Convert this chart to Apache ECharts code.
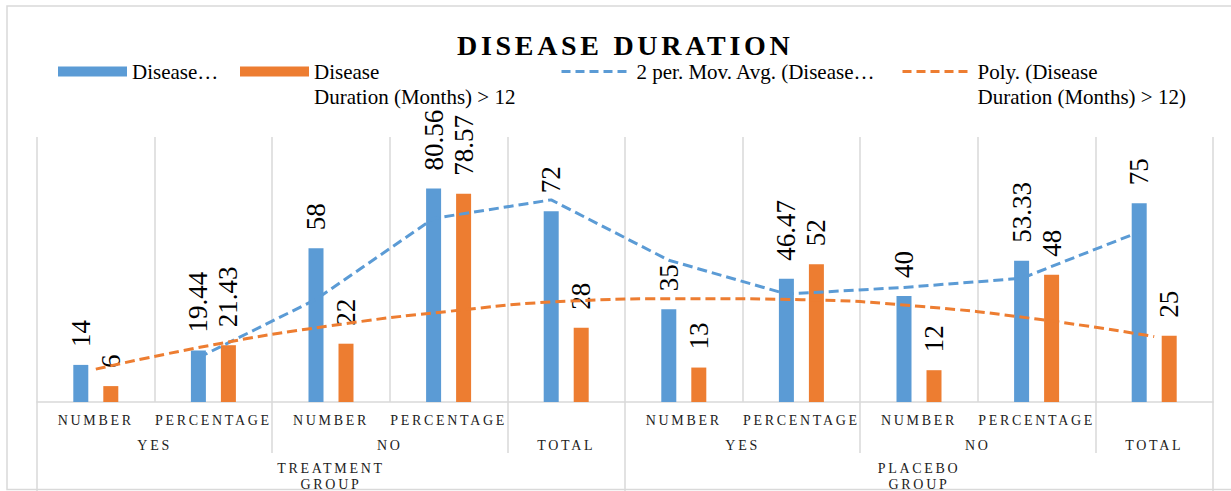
<!DOCTYPE html>
<html><head><meta charset="utf-8">
<script src="https://cdn.jsdelivr.net/npm/echarts@6/dist/echarts.min.js"></script>
<style>html,body{margin:0;padding:0;background:#fff}#c{width:1231px;height:491px}</style>
</head><body><div id="c"></div>
<script>
// ---- data ----
const categories = ['NUMBER', 'PERCENTAGE', 'NUMBER', 'PERCENTAGE', '', 'NUMBER', 'PERCENTAGE', 'NUMBER', 'PERCENTAGE', ''];
const level2Labels = ['YES', 'NO', 'TOTAL', 'YES', 'NO', 'TOTAL'];
const level2Spans = [2, 2, 1, 2, 2, 1];
const level3Labels = ['TREATMENT\nGROUP', 'PLACEBO\nGROUP'];
const level3Spans = [5, 5];
const shortDuration = [14, 19.44, 58, 80.56, 72, 35, 46.47, 40, 53.33, 75];
const longDuration = [6, 21.43, 22, 78.57, 28, 13, 52, 12, 48, 25];
const movingAvg = [null, 16.72, 38.72, 69.28, 76.28, 53.5, 40.74, 43.24, 46.67, 64.17];
const polyTrend = [12.4, 21.6, 28.8, 34.2, 38.0, 39.0, 38.6, 36.1, 31.3, 24.7];
const seriesNames = ['Disease…', 'Disease\nDuration (Months) > 12', '2 per. Mov. Avg. (Disease…', 'Poly. (Disease\nDuration (Months) > 12)'];
const titleText = 'DISEASE DURATION';

// ---- layout ----
const W = 1231, H = 491;
const gridL = 37, gridR = 18, gridT = 137, gridB = 89;
const catW = (W - gridL - gridR) / categories.length;
const barW = 15;
const barOffset = barW / catW; // blue bar centre offset in category units
const BLUE = '#5B9BD5', ORANGE = '#ED7D31', GRID = '#d9d9d9';
const SERIF = 'Liberation Serif';

function spanCenters(spans) { let s = 0; return spans.map(v => { const c = s + v / 2; s += v; return c; }); }
function spanEdges(spans) { let s = 0; const out = [0]; spans.forEach(v => { s += v; out.push(s); }); return out; }
const l2Centers = spanCenters(level2Spans);
const l3Centers = spanCenters(level3Spans);
const l3Edges = spanEdges(level3Spans);
const l2Edges = spanEdges(level2Spans).slice(1, -1).filter(e => !l3Edges.includes(e));
function labelAt(centers, labels) {
  return v => { const i = centers.findIndex(c => Math.abs(c - v) < 1e-6); return i >= 0 ? labels[i] : ''; };
}

const maPoints = movingAvg.map((v, i) => v == null ? null : [i + 0.5 - barOffset, v]).filter(p => p);

const axisText = { fontFamily: SERIF, fontSize: 14, color: '#222' };
const legendText = { fontFamily: SERIF, fontSize: 21, color: '#000', lineHeight: 25 };
const dashLegend = { width: 3, type: [9, 5] };
// two-line legend names: an empty leading line keeps the first line level with the icon
const firstLineAtIcon = name => '\n' + name;
const legendBase = { padding: 0, itemWidth: 69, itemHeight: 10, textStyle: legendText };

const chart = echarts.init(document.getElementById('c'), null, { renderer: 'svg', width: W, height: H });
chart.setOption({
  animation: false,
  backgroundColor: '#fff',
  textStyle: { fontFamily: SERIF },
  title: {
    text: titleText, left: 457, top: 31, padding: 0,
    textStyle: { fontFamily: SERIF, fontWeight: 'bold', fontSize: 28, color: '#000' }
  },
  graphic: [{
    type: 'rect', silent: true, z: -10,
    shape: { x: 7, y: 6, width: 1300, height: 483.5 },
    style: { fill: 'none', stroke: GRID, lineWidth: 1.5 }
  }],
  legend: [
    Object.assign({ data: [{ name: seriesNames[0], icon: 'rect' }], left: 58, top: 59 }, legendBase),
    Object.assign({ data: [{ name: seriesNames[1], icon: 'rect' }], left: 240, top: 34, formatter: firstLineAtIcon }, legendBase),
    Object.assign({ data: [{ name: seriesNames[2], itemStyle: { opacity: 0 }, lineStyle: dashLegend }], left: 560, top: 59 }, legendBase, { itemWidth: 70 }),
    Object.assign({ data: [{ name: seriesNames[3], itemStyle: { opacity: 0 }, lineStyle: dashLegend }], left: 901, top: 34, formatter: firstLineAtIcon }, legendBase, { itemWidth: 70 })
  ],
  grid: { left: gridL, right: gridR, top: gridT, bottom: gridB, containLabel: false, outerBoundsMode: 'none' },
  xAxis: [
    {
      type: 'category', data: categories, position: 'bottom',
      axisLine: { show: true, lineStyle: { color: GRID, width: 1.5 } },
      axisTick: { show: false },
      splitLine: { show: true, lineStyle: { color: GRID, width: 1.5 } },
      axisLabel: Object.assign({ interval: 0, margin: 11.5 }, axisText)
    },
    {
      type: 'value', min: 0, max: categories.length, position: 'bottom',
      axisLine: { show: false }, splitLine: { show: false },
      axisTick: { show: true, customValues: l2Edges, length: 51, lineStyle: { color: GRID, width: 1.5 } },
      axisLabel: Object.assign({ customValues: l2Centers, margin: 36, formatter: labelAt(l2Centers, level2Labels) }, axisText)
    },
    {
      type: 'value', min: 0, max: categories.length, position: 'bottom',
      axisLine: { show: false }, splitLine: { show: false },
      axisTick: { show: true, customValues: l3Edges, length: 95, lineStyle: { color: GRID, width: 1.5 } },
      axisLabel: Object.assign({ customValues: l3Centers, margin: 58, lineHeight: 16, formatter: labelAt(l3Centers, level3Labels) }, axisText)
    }
  ],
  yAxis: { type: 'value', min: 0, max: 100, show: false },
  series: [
    {
      name: seriesNames[0], type: 'bar', xAxisIndex: 0, data: shortDuration,
      barWidth: barW, barGap: '100%', itemStyle: { color: BLUE },
      label: { show: true, position: 'top', distance: 18, rotate: 90, align: 'left', verticalAlign: 'middle', fontFamily: SERIF, fontSize: 27, color: '#000' }
    },
    {
      name: seriesNames[1], type: 'bar', xAxisIndex: 0, data: longDuration,
      barWidth: barW, barGap: '100%', itemStyle: { color: ORANGE },
      label: { show: true, position: 'top', distance: 18, rotate: 90, align: 'left', verticalAlign: 'middle', fontFamily: SERIF, fontSize: 27, color: '#000' }
    },
    {
      name: seriesNames[2], type: 'line', xAxisIndex: 1, data: maPoints, symbol: 'none', z: 5,
      itemStyle: { color: BLUE }, lineStyle: { color: BLUE, width: 3, type: [10, 5] }
    },
    {
      name: seriesNames[3], type: 'line', xAxisIndex: 0, data: polyTrend, symbol: 'none', smooth: 0.5, z: 5,
      itemStyle: { color: ORANGE }, lineStyle: { color: ORANGE, width: 3, type: [10, 5] }
    }
  ]
});

// letter spacing for the spaced-out caps (title and axis labels)
const spacing = { 'DISEASE DURATION': 3.7, 'NUMBER': 2.7, 'PERCENTAGE': 2.7, 'YES': 2.7, 'NO': 2.7, 'TOTAL': 2.7, 'TREATMENT': 2.7, 'PLACEBO': 2.7, 'GROUP': 2.7 };
function applySpacing() {
  document.querySelectorAll('#c svg text').forEach(t => {
    const s = t.textContent.trim();
    if (spacing[s] != null) t.setAttribute('letter-spacing', spacing[s]);
  });
}
applySpacing();
chart.on('finished', applySpacing);
</script>
</body></html>
